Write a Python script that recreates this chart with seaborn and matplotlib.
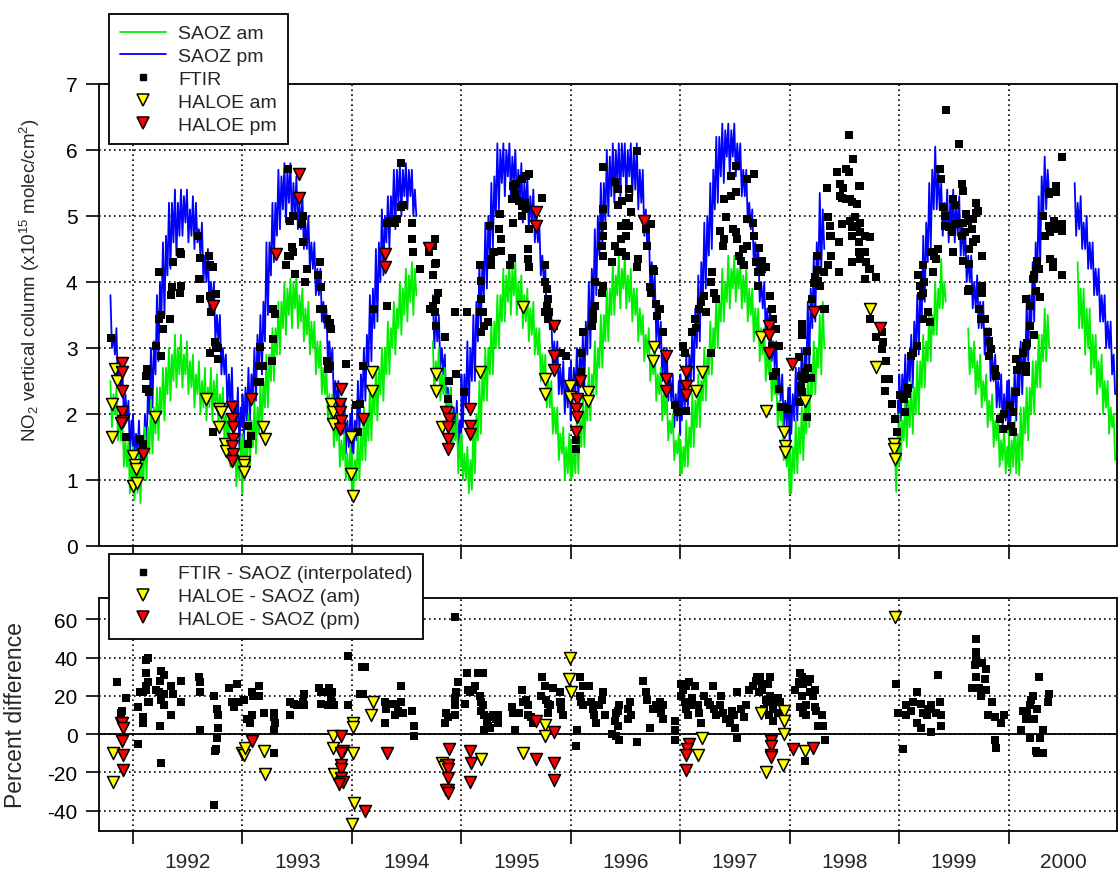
import numpy as np
import pandas as pd
import matplotlib
matplotlib.use("Agg")
import matplotlib.pyplot as plt
from matplotlib.lines import Line2D
import seaborn as sns

nan = np.nan
NN = (nan, nan)

# =========================
# DATA
# =========================
# SAOZ daily columns shown as (upper, lower) edge of the noisy band every 10 days,
# one row per year 1991-2000 (37 pairs per year, days 0/5, 10/15, ..., 360/365)
saoz_years = list(range(1991, 2001))
saoz_doy = list(range(0, 370, 5))

saoz_pm = (
    [NN] * 29 + [(3.8, 3.0), (3.2, 2.9), (3.3, 2.4), (2.8, 2.4), (2.7, 1.9), (2.3, 1.9), (2.2, 1.4), (1.9, 1.5)]
    + [(2.0, 1.4), (1.7, 1.4), (1.9, 1.2), (1.6, 1.3), (2.0, 1.4), (2.4, 2.0), (3.0, 2.1), (3.1, 2.6), (3.8, 2.8),
       (4.0, 3.5), (4.6, 3.5), (4.7, 4.1), (5.2, 4.2), (5.2, 4.6), (5.4, 4.4), (5.2, 4.7), (5.4, 4.7), (5.3, 4.9),
       (5.4, 4.6), (5.1, 4.7), (5.3, 4.5), (5.2, 4.6), (4.8, 4.4), (4.9, 4.0), (4.4, 4.0), (4.5, 3.6), (4.0, 3.6),
       (4.0, 3.1), (3.5, 3.1), (3.5, 2.6), (3.0, 2.6), (2.9, 2.1), (2.6, 2.1), (2.7, 1.8), (2.2, 1.8), (2.4, 1.5),
       (2.1, 1.8)]
    + [(2.3, 1.6), (2.4, 1.9), (2.7, 1.9), (2.6, 2.3), (3.0, 2.2), (3.2, 2.7), (3.5, 2.6), (3.7, 3.1), (4.6, 3.5),
       (4.6, 4.1), (5.2, 4.3), (5.2, 4.7), (5.7, 4.8), (5.6, 5.1), (5.8, 4.9), (5.7, 5.2), (5.8, 4.9), (5.5, 5.0),
       (5.6, 4.8), (5.2, 4.8), (5.3, 4.5), (4.9, 4.5), (5.0, 4.2), (4.6, 4.2), (4.6, 3.8), (4.2, 3.8), (4.2, 3.4),
       (3.7, 3.3), (3.6, 2.8), (3.1, 2.7), (3.0, 2.2), (2.5, 2.1), (2.5, 1.7), (2.1, 1.7), (2.2, 1.4), (1.9, 1.5),
       (2.0, 1.4)]
    + [(2.1, 1.4), (1.9, 1.6), (2.5, 1.7), (2.6, 2.2), (3.0, 2.2), (3.2, 2.7), (3.8, 2.8), (3.9, 3.3), (4.5, 3.4),
       (4.6, 4.0), (5.1, 4.1), (5.0, 4.6), (5.3, 4.5), (5.3, 4.9), (5.7, 4.8), (5.7, 5.2), (5.8, 5.0), (5.7, 5.3),
       (5.8, 5.1), (5.7, 5.3), (5.7, 5.0), (5.4, 5.0)] + [NN] * 5
    + [(3.8, 3.0), (3.5, 3.1), (3.5, 2.7), (3.0, 2.6), (2.9, 2.1), (2.4, 2.0), (2.4, 1.6), (2.1, 1.7), (2.2, 1.5),
       (1.9, 1.6)]
    + [(2.6, 1.8), (2.6, 2.1), (3.1, 2.1), (3.0, 2.5), (3.5, 2.5), (3.7, 3.1), (4.3, 3.3), (4.3, 3.8), (4.9, 3.9),
       (5.0, 4.4), (5.5, 4.5), (5.6, 5.0), (6.1, 5.1), (6.0, 5.5), (6.1, 5.3), (6.0, 5.6), (6.1, 5.3), (5.9, 5.5),
       (6.0, 5.2), (5.7, 5.2), (5.8, 4.9), (5.5, 5.1), (5.6, 4.8), (5.3, 4.9), (5.4, 4.6), (5.0, 4.6), (4.9, 4.1),
       (4.4, 4.0), (4.2, 3.4), (3.7, 3.3), (3.5, 2.7), (3.1, 2.7), (3.1, 2.3), (2.7, 2.3), (2.8, 2.0), (2.5, 2.1),
       (2.7, 1.9)]
    + [(2.8, 2.1), (2.7, 2.3), (3.0, 2.2), (2.9, 2.5), (3.2, 2.4), (3.4, 2.9), (4.0, 3.0), (4.2, 3.6), (4.8, 3.8),
       (5.0, 4.4), (5.5, 4.5), (5.5, 4.9), (6.0, 5.0), (5.9, 5.3), (6.1, 5.2), (6.0, 5.5), (6.1, 5.3), (6.1, 5.6),
       (6.1, 5.3), (6.0, 5.6), (6.1, 5.3), (6.0, 5.4), (6.1, 5.1), (5.7, 5.2), (5.7, 4.7), (5.1, 4.5), (4.9, 3.9),
       (4.3, 3.7), (4.1, 3.1), (3.5, 3.0), (3.4, 2.5), (3.0, 2.5), (3.0, 2.2), (2.6, 2.2), (2.6, 1.8), (2.3, 1.9),
       (2.5, 1.7)]
    + [(2.6, 1.9), (2.5, 2.1), (2.9, 2.1), (2.9, 2.5), (3.3, 2.5), (3.6, 3.0), (4.1, 3.1), (4.3, 3.7), (4.9, 3.9),
       (5.0, 4.4), (5.5, 4.5), (5.7, 5.1), (6.2, 5.2), (6.2, 5.6), (6.4, 5.5), (6.3, 5.9), (6.4, 5.6), (6.3, 5.9),
       (6.4, 5.6), (6.1, 5.7), (6.1, 5.3), (5.7, 5.3), (5.7, 4.9), (5.2, 4.8), (5.1, 4.3), (4.6, 4.2), (4.5, 3.7),
       (4.0, 3.6), (4.0, 3.2), (3.6, 3.2), (3.6, 2.8), (3.1, 2.7), (3.1, 2.3), (2.6, 2.2), (2.6, 1.8), (2.2, 1.8),
       (2.4, 1.6)]
    + [(2.4, 1.7), (2.3, 1.9), (2.7, 1.9), (2.7, 2.3), (3.0, 2.2), (3.0, 2.6), (3.7, 2.7), (3.9, 3.3), (4.4, 3.4),
       (4.6, 4.0), (5.35, 4.2), (5.1, 4.5)] + [NN] * 24 + [(2.2, 1.6)]
    + [(2.6, 1.9), (2.6, 2.2), (2.9, 2.1), (2.9, 2.5), (3.2, 2.4), (3.4, 2.9), (3.8, 2.9), (4.0, 3.4), (4.7, 3.7),
       (4.9, 4.3), (5.5, 4.5), (5.7, 5.1), (6.05, 5.1), (5.7, 5.1), (5.5, 4.7), (5.2, 4.8), (5.4, 4.6), (5.2, 4.8),
       (5.4, 4.6), (5.2, 4.7), (5.3, 4.4), (4.9, 4.4), (4.8, 4.0), (4.4, 4.0), (4.4, 3.6), (4.0, 3.6), (4.1, 3.3),
       (3.7, 3.3), (3.7, 2.9), (3.3, 2.9), (3.3, 2.5), (2.9, 2.5), (2.9, 2.1), (2.5, 2.1), (2.6, 1.8), (2.3, 1.9),
       (2.5, 1.7)]
    + [(2.5, 1.8), (2.4, 2.0), (2.7, 1.9), (2.7, 2.3), (3.1, 2.3), (3.1, 2.7), (3.7, 2.8), (3.8, 3.3), (4.3, 3.4),
       (4.6, 4.0), (5.3, 4.3), (5.6, 5.0), (5.9, 5.1), (5.7, 5.3)] + [NN] * 8
    + [(5.5, 4.7), (5.2, 4.8), (5.3, 4.5), (4.9, 4.5), (5.0, 4.2), (4.6, 4.2), (4.6, 3.8), (4.2, 3.8), (4.2, 3.4),
       (3.8, 3.4), (3.8, 3.0), (3.4, 3.0), (3.4, 2.6), (2.9, 2.3), NN]
)

saoz_am = (
    [NN] * 29 + [(2.5, 1.8), (2.3, 2.0), (2.4, 1.6), (2.0, 1.6), (2.0, 1.2), (1.6, 1.2), (1.6, 0.8), (1.3, 0.9)]
    + [(1.5, 0.7), (1.2, 0.8), (1.4, 0.65), (1.4, 1.0), (1.8, 1.0), (1.8, 1.4), (2.2, 1.4), (2.1, 1.7), (2.4, 1.6),
       (2.4, 2.0), (2.7, 1.9), (2.7, 2.3), (3.0, 2.2), (2.9, 2.5), (3.2, 2.4), (3.0, 2.6), (3.2, 2.4), (2.9, 2.6),
       (3.1, 2.3), (2.8, 2.4), (2.9, 2.1), (2.6, 2.3), (2.8, 2.0), (2.5, 2.1), (2.7, 1.9), (2.4, 2.1), (2.7, 1.9),
       (2.5, 2.1), (2.6, 1.8), (2.3, 1.9), (2.4, 1.6), (2.0, 1.6), (2.0, 1.2), (1.6, 1.2), (1.7, 0.9), (1.4, 1.0),
       (1.6, 0.8)]
    + [(1.7, 1.0), (1.6, 1.3), (2.0, 1.2), (1.9, 1.5), (2.2, 1.4), (2.1, 1.7), (2.5, 1.7), (2.5, 2.1), (2.9, 2.1),
       (2.9, 2.5), (3.3, 2.5), (3.3, 2.9), (3.7, 2.9), (3.7, 3.3), (4.0, 3.2), (3.9, 3.5), (4.05, 3.3), (4.0, 3.6),
       (4.1, 3.3), (3.8, 3.4), (3.9, 3.1), (3.6, 3.2), (3.7, 2.9), (3.4, 3.0), (3.4, 2.6), (3.1, 2.7), (3.1, 2.3),
       (2.7, 2.3), (2.7, 1.9), (2.3, 1.9), (2.3, 1.5), (1.9, 1.6), (2.0, 1.2), (1.6, 1.3), (1.7, 1.0), (1.4, 1.0),
       (1.5, 0.85)]
    + [(1.4, 0.85), (1.3, 1.0), (1.7, 1.0), (1.7, 1.3), (2.1, 1.3), (2.0, 1.6), (2.4, 1.6), (2.4, 2.0), (2.7, 1.9),
       (2.7, 2.3), (3.0, 2.2), (3.0, 2.6), (3.4, 2.6), (3.3, 3.0), (3.7, 2.9), (3.6, 3.3), (4.0, 3.2), (3.9, 3.5),
       (4.2, 3.4), (4.1, 3.7), (4.3, 3.5), (4.2, 3.8)] + [NN] * 5
    + [(3.1, 2.3), (2.8, 2.5), (3.0, 2.2), (2.6, 2.3), (2.7, 1.9), (2.3, 2.0), (2.4, 1.5), (1.9, 1.6), (2.0, 1.1),
       (1.6, 1.2)]
    + [(1.7, 1.0), (1.4, 1.0), (1.5, 0.8), (1.3, 0.85), (1.9, 1.1), (2.0, 1.6), (2.5, 1.7), (2.6, 2.2), (3.0, 2.2),
       (3.0, 2.6), (3.4, 2.6), (3.4, 3.0), (3.8, 3.0), (3.8, 3.4), (4.2, 3.4), (4.1, 3.7), (4.3, 3.5), (4.2, 3.8),
       (4.3, 3.5), (4.0, 3.6), (4.1, 3.3), (3.8, 3.4), (3.9, 3.1), (3.6, 3.2), (3.7, 2.9), (3.3, 2.9), (3.3, 2.5),
       (2.9, 2.5), (2.9, 2.1), (2.5, 2.1), (2.5, 1.7), (2.1, 1.7), (2.1, 1.3), (1.7, 1.4), (1.8, 1.0), (1.5, 1.1),
       (1.7, 1.0)]
    + [(1.6, 1.05), (1.5, 1.1), (1.9, 1.1), (1.9, 1.5), (2.3, 1.5), (2.2, 1.9), (2.7, 1.9), (2.6, 2.3), (3.1, 2.3),
       (3.0, 2.7), (3.5, 2.7), (3.5, 3.1), (3.9, 3.1), (3.9, 3.5), (4.3, 3.5), (4.1, 3.8), (4.4, 3.6), (4.2, 3.9),
       (4.4, 3.6), (4.1, 3.7), (4.2, 3.4), (3.9, 3.5), (3.9, 3.1), (3.6, 3.2), (3.5, 2.8), (3.2, 2.9), (3.3, 2.5),
       (2.9, 2.6), (3.0, 2.2), (2.6, 2.3), (2.7, 1.9), (2.3, 2.0), (2.3, 1.6), (1.9, 1.7), (2.0, 1.3), (1.6, 1.4),
       (1.7, 1.1)]
    + [(1.6, 1.1), (1.5, 1.2), (1.9, 1.2), (1.8, 1.5), (2.3, 1.5), (2.2, 1.8), (2.6, 1.8), (2.5, 2.2), (3.0, 2.2),
       (2.9, 2.6), (3.4, 2.6), (3.3, 3.0), (3.8, 3.0), (3.7, 3.4), (4.2, 3.4), (4.0, 3.7), (4.4, 3.6), (4.2, 3.9),
       (4.4, 3.7), (4.2, 3.9), (4.4, 3.6), (4.1, 3.7), (4.2, 3.4), (3.9, 3.5), (3.9, 3.1), (3.6, 3.2), (3.6, 2.8),
       (3.3, 2.9), (3.3, 2.5), (3.0, 2.6), (3.0, 2.2), (2.6, 2.3), (2.6, 1.8), (2.2, 1.9), (2.1, 1.3), (1.6, 1.2),
       (1.5, 0.8)]
    + [(1.6, 0.8), (1.5, 1.1), (1.9, 1.1), (1.8, 1.4), (2.1, 1.3), (2.1, 1.7), (2.6, 1.8), (2.7, 2.3), (3.1, 2.3),
       (3.0, 2.7), (3.5, 2.6), (3.7, 3.0)] + [NN] * 23 + [(1.6, 0.82), (1.7, 1.2)]
    + [(2.0, 1.3), (1.9, 1.6), (2.3, 1.5), (2.2, 1.8), (2.5, 1.7), (2.4, 2.0), (2.8, 2.0), (2.8, 2.4), (3.2, 2.4),
       (3.1, 2.8), (3.6, 2.8), (3.5, 3.2), (4.0, 3.2), (3.9, 3.6), (4.35, 3.6), (4.0, 3.7)] + [NN] * 7
    + [(3.3, 2.6), (3.0, 2.7), (3.1, 2.3), (2.8, 2.4), (2.9, 2.1), (2.5, 2.2), (2.6, 1.8), (2.2, 1.9), (2.3, 1.5),
       (1.9, 1.6), (2.0, 1.2), (1.6, 1.3), (1.8, 1.1), (1.5, 1.2)]
    + [(1.8, 1.1), (1.6, 1.2), (1.9, 1.1), (1.7, 1.07), (2.1, 1.3), (2.1, 1.7), (2.4, 1.6), (2.4, 2.0), (2.8, 2.0),
       (2.8, 2.4), (3.2, 2.4), (3.2, 2.8), (3.6, 2.8), (3.5, 3.0)] + [NN] * 9
    + [(4.3, 3.3), (3.9, 3.3), (3.9, 2.9), (3.6, 3.0), (3.6, 2.6), (3.2, 2.7), (3.2, 2.3), (2.8, 2.4), (2.9, 2.0),
       (2.5, 2.1), (2.5, 1.7), (2.1, 1.8), (2.0, 1.3), NN]
)

# FTIR NO2 columns (decimal year, 1e15 molec/cm2)
ftir = [
    (1991.80, 3.15), (1991.94, 1.65), (1992.06, 1.62), (1992.09, 1.55), (1992.12, 2.38), (1992.13, 2.68),
    (1992.12, 2.58), (1992.15, 2.33), (1992.21, 3.03), (1992.24, 4.15), (1992.24, 3.44), (1992.26, 3.50),
    (1992.26, 2.88), (1992.27, 3.29), (1992.34, 3.44), (1992.35, 3.80), (1992.36, 3.92), (1992.37, 4.30),
    (1992.43, 4.45), (1992.44, 4.42), (1992.43, 3.84), (1992.44, 3.94), (1992.59, 4.70), (1992.61, 4.37),
    (1992.60, 4.05), (1992.61, 3.74), (1992.69, 4.40), (1992.70, 4.25), (1992.73, 4.23), (1992.70, 3.79),
    (1992.71, 3.54), (1992.76, 3.82), (1992.75, 3.09), (1992.76, 3.03), (1992.78, 3.00), (1992.70, 2.93),
    (1992.78, 2.83), (1992.73, 1.72),
    (1993.05, 1.82), (1993.08, 1.67), (1993.05, 1.55), (1993.13, 2.48), (1993.16, 2.48), (1993.15, 2.73),
    (1993.16, 3.01), (1993.19, 2.73), (1993.27, 2.81), (1993.28, 3.59), (1993.28, 3.13), (1993.30, 3.51),
    (1993.40, 4.25), (1993.42, 4.40), (1993.43, 4.40), (1993.45, 4.53), (1993.46, 4.45), (1993.48, 4.12),
    (1993.43, 4.93), (1993.46, 5.00), (1993.54, 4.88), (1993.55, 4.60), (1993.42, 5.71), (1993.55, 5.00),
    (1993.59, 4.20), (1993.57, 4.00), (1993.69, 4.10), (1993.71, 4.30), (1993.72, 3.92), (1993.71, 3.59),
    (1993.74, 3.59), (1993.77, 3.44), (1993.80, 3.38), (1993.80, 3.33), (1993.81, 3.29), (1993.77, 2.81),
    (1993.80, 2.73), (1993.78, 2.68), (1993.95, 2.76),
    (1994.04, 2.13), (1994.06, 1.72), (1994.07, 2.15), (1994.10, 2.73), (1994.20, 3.59), (1994.32, 3.64),
    (1994.32, 4.90), (1994.35, 4.93), (1994.39, 4.90), (1994.41, 4.95), (1994.45, 5.81), (1994.45, 5.13),
    (1994.47, 5.16), (1994.55, 4.90), (1994.55, 4.65), (1994.56, 4.45), (1994.62, 4.20), (1994.70, 4.45),
    (1994.76, 4.65), (1994.74, 4.55), (1994.76, 4.27), (1994.77, 4.29), (1994.74, 4.10), (1994.79, 3.84),
    (1994.77, 3.72), (1994.74, 3.64), (1994.71, 3.59), (1994.76, 3.54), (1994.77, 3.34), (1994.85, 3.16),
    (1994.94, 3.54), (1994.89, 2.50), (1994.88, 2.23), (1994.95, 2.60),
    (1995.05, 3.54), (1995.02, 2.33), (1995.17, 4.25), (1995.18, 4.02), (1995.18, 3.74), (1995.17, 3.54),
    (1995.20, 3.54), (1995.18, 3.24), (1995.21, 3.34), (1995.24, 3.39), (1995.27, 4.35), (1995.27, 4.25),
    (1995.30, 4.45), (1995.36, 4.47), (1995.26, 4.85), (1995.35, 5.03), (1995.34, 4.80), (1995.36, 4.65),
    (1995.44, 4.25), (1995.46, 4.37), (1995.47, 4.90), (1995.46, 5.26), (1995.49, 5.33), (1995.50, 5.48),
    (1995.53, 5.23), (1995.58, 5.20), (1995.55, 5.15), (1995.47, 5.46), (1995.55, 5.56), (1995.59, 5.61),
    (1995.62, 5.64), (1995.55, 5.00), (1995.59, 5.10), (1995.62, 4.80), (1995.61, 4.35), (1995.62, 4.22),
    (1995.61, 4.50), (1995.74, 5.28), (1995.76, 4.25), (1995.76, 4.00), (1995.78, 3.90), (1995.79, 3.74),
    (1995.78, 3.64), (1995.76, 3.54), (1995.79, 3.44), (1995.80, 3.54), (1995.84, 3.34), (1995.85, 3.34),
    (1995.91, 2.93), (1995.96, 2.88),
    (1996.09, 2.93), (1996.11, 3.24), (1996.09, 2.63), (1996.08, 2.48), (1996.05, 1.60), (1996.05, 1.47),
    (1996.20, 3.44), (1996.19, 3.34), (1996.20, 3.54), (1996.22, 3.64), (1996.22, 4.00), (1996.28, 3.84),
    (1996.29, 3.94), (1996.28, 4.55), (1996.29, 4.70), (1996.29, 4.40), (1996.29, 5.10), (1996.29, 4.85),
    (1996.38, 4.30), (1996.40, 4.55), (1996.43, 4.45), (1996.46, 4.65), (1996.47, 4.45), (1996.29, 5.74),
    (1996.40, 5.51), (1996.43, 5.41), (1996.43, 5.16), (1996.47, 5.23), (1996.53, 5.41), (1996.53, 5.28),
    (1996.55, 5.06), (1996.53, 4.85), (1996.50, 4.90), (1996.46, 4.85), (1996.50, 4.70), (1996.60, 5.99),
    (1996.50, 4.40), (1996.61, 4.35), (1996.60, 4.22), (1996.70, 4.55), (1996.69, 4.80), (1996.73, 4.88),
    (1996.75, 4.20), (1996.76, 4.17), (1996.72, 3.92), (1996.73, 3.84), (1996.78, 3.67), (1996.79, 3.49),
    (1996.81, 3.59), (1996.84, 3.24), (1996.95, 2.13), (1996.98, 2.03),
    (1997.05, 2.05), (1997.04, 2.93), (1997.02, 3.03), (1997.11, 3.24), (1997.14, 3.31), (1997.13, 3.44),
    (1997.17, 3.59), (1997.19, 3.69), (1997.22, 3.79), (1997.23, 3.54), (1997.28, 2.93), (1997.28, 4.00),
    (1997.29, 4.15), (1997.31, 3.84), (1997.33, 3.74), (1997.36, 4.78), (1997.39, 4.55), (1997.40, 4.65),
    (1997.42, 4.98), (1997.40, 5.26), (1997.46, 5.31), (1997.51, 5.36), (1997.46, 5.61), (1997.51, 5.76),
    (1997.61, 5.56), (1997.67, 5.64), (1997.48, 4.80), (1997.51, 4.75), (1997.52, 4.65), (1997.54, 4.40),
    (1997.55, 4.32), (1997.58, 4.25), (1997.61, 4.95), (1997.66, 4.90), (1997.67, 4.70), (1997.57, 4.50),
    (1997.61, 4.55), (1997.69, 4.30), (1997.71, 4.15), (1997.74, 4.15), (1997.75, 4.32), (1997.72, 4.52),
    (1997.71, 3.94), (1997.75, 4.20), (1997.78, 4.22), (1997.82, 3.79), (1997.84, 3.59), (1997.85, 3.44),
    (1997.87, 3.29), (1997.90, 3.03), (1997.84, 3.03), (1997.87, 2.63), (1997.85, 2.58), (1997.90, 2.38),
    (1997.92, 2.10), (1997.95, 2.10), (1997.98, 2.08),
    (1998.10, 2.43), (1998.11, 2.33), (1998.13, 2.53), (1998.11, 3.19), (1998.11, 3.31), (1998.11, 3.36),
    (1998.16, 2.96), (1998.17, 2.70), (1998.19, 2.55), (1998.08, 2.18), (1998.16, 1.95), (1998.08, 2.86),
    (1998.10, 2.58), (1998.14, 2.63), (1998.25, 4.40), (1998.25, 4.18), (1998.22, 3.99), (1998.23, 4.07),
    (1998.26, 4.02), (1998.31, 4.15), (1998.20, 3.74), (1998.28, 3.94), (1998.31, 3.59), (1998.32, 3.59),
    (1998.34, 5.43), (1998.35, 4.98), (1998.37, 4.70), (1998.38, 4.70), (1998.38, 4.40), (1998.35, 4.25),
    (1998.45, 4.15), (1998.37, 4.85), (1998.43, 5.66), (1998.46, 5.31), (1998.48, 5.28), (1998.49, 5.43),
    (1998.51, 5.71), (1998.54, 6.22), (1998.58, 5.86), (1998.46, 5.48), (1998.51, 5.26), (1998.55, 5.26),
    (1998.57, 5.21), (1998.61, 5.18), (1998.63, 5.46), (1998.64, 5.46), (1998.54, 5.66), (1998.55, 4.93),
    (1998.60, 4.98), (1998.61, 4.85), (1998.64, 4.90), (1998.64, 4.75), (1998.57, 4.83), (1998.57, 4.70),
    (1998.45, 4.60), (1998.48, 4.88), (1998.63, 4.60), (1998.73, 4.68), (1998.69, 4.70), (1998.57, 4.30),
    (1998.63, 4.45), (1998.64, 4.35), (1998.69, 4.45), (1998.70, 4.30), (1998.69, 4.05), (1998.72, 4.20),
    (1998.73, 4.20), (1998.79, 4.07), (1998.73, 3.44), (1998.79, 3.16), (1998.84, 3.24), (1998.85, 3.09),
    (1998.84, 2.98), (1998.88, 2.81), (1998.87, 2.53), (1998.87, 2.35), (1998.91, 2.53), (1998.93, 2.15),
    (1998.96, 1.92), (1998.98, 1.72),
    (1999.01, 2.28), (1999.04, 2.23), (1999.05, 2.03), (1999.07, 2.30), (1999.08, 2.40), (1999.11, 2.88),
    (1999.13, 2.93), (1999.16, 3.03), (1999.17, 4.10), (1999.22, 4.25), (1999.23, 4.00), (1999.22, 3.84),
    (1999.19, 3.94), (1999.20, 3.79), (1999.22, 3.44), (1999.26, 3.54), (1999.28, 3.39), (1999.31, 4.15),
    (1999.29, 4.45), (1999.32, 4.40), (1999.35, 4.50), (1999.34, 4.35), (1999.37, 5.71), (1999.38, 5.56),
    (1999.43, 6.60), (1999.40, 5.13), (1999.42, 5.00), (1999.49, 5.26), (1999.51, 5.16), (1999.42, 4.85),
    (1999.45, 4.83), (1999.48, 4.75), (1999.51, 4.88), (1999.55, 6.09), (1999.57, 5.48), (1999.58, 5.38),
    (1999.58, 4.90), (1999.61, 5.03), (1999.63, 4.93), (1999.67, 4.95), (1999.70, 5.05), (1999.60, 4.75),
    (1999.66, 4.80), (1999.49, 4.45), (1999.57, 4.70), (1999.64, 4.50), (1999.67, 4.60), (1999.70, 4.65),
    (1999.58, 4.32), (1999.64, 4.27), (1999.70, 5.20), (1999.72, 5.08), (1999.76, 4.40), (1999.63, 3.87),
    (1999.64, 3.89), (1999.76, 3.94), (1999.76, 3.84), (1999.73, 3.59), (1999.75, 3.44), (1999.78, 3.44),
    (1999.81, 3.24), (1999.82, 3.11), (1999.84, 2.98), (1999.82, 2.88), (1999.87, 2.68), (1999.88, 2.58),
    (1999.92, 1.92), (1999.95, 1.77), (1999.96, 2.00),
    (2000.01, 2.13), (2000.02, 1.82), (2000.04, 1.72), (2000.04, 2.03), (2000.07, 2.33), (2000.08, 2.66),
    (2000.07, 2.83), (2000.10, 2.73), (2000.13, 2.93), (2000.16, 3.03), (2000.17, 3.08), (2000.16, 2.63),
    (2000.16, 2.73), (2000.16, 3.74), (2000.19, 3.64), (2000.19, 3.34), (2000.23, 3.19), (2000.22, 4.05),
    (2000.23, 4.10), (2000.25, 4.20), (2000.26, 4.32), (2000.28, 4.20), (2000.25, 3.87), (2000.29, 3.77),
    (2000.31, 5.00), (2000.33, 4.70), (2000.37, 4.85), (2000.38, 4.75), (2000.38, 4.35), (2000.40, 4.30),
    (2000.40, 4.22), (2000.38, 4.78), (2000.41, 4.93), (2000.37, 5.33), (2000.38, 5.36), (2000.43, 5.46),
    (2000.43, 5.36), (2000.43, 4.80), (2000.49, 4.88), (2000.49, 4.78), (2000.49, 4.10), (2000.49, 5.89),
]

haloe_am = [
    (1991.81, 2.15), (1991.81, 1.65), (1991.84, 2.68), (1991.85, 2.50), (1992.00, 1.37), (1992.02, 1.22),
    (1992.03, 1.17), (1992.00, 0.91), (1992.04, 0.96), (1992.20, 1.95), (1992.67, 2.23), (1992.79, 2.08),
    (1992.79, 1.80), (1992.80, 2.03), (1992.84, 1.55), (1992.85, 1.44), (1993.01, 1.27), (1993.01, 1.22),
    (1993.01, 1.12), (1993.19, 1.80), (1993.21, 1.62), (1993.81, 2.15), (1993.83, 2.03), (1993.83, 1.85),
    (1993.99, 1.65), (1993.99, 1.09), (1994.01, 0.76), (1994.18, 2.63), (1994.18, 2.35), (1994.77, 2.60),
    (1994.77, 2.35), (1994.82, 1.80), (1995.17, 2.63), (1995.56, 3.62), (1995.76, 2.53), (1995.76, 2.30),
    (1995.99, 2.43), (1995.99, 2.25), (1996.16, 2.33), (1996.16, 2.20), (1996.76, 3.01), (1996.75, 2.81),
    (1997.14, 2.35), (1997.20, 2.63), (1997.74, 3.16), (1997.78, 2.05), (1997.95, 1.72), (1997.96, 1.52),
    (1997.96, 1.42), (1998.14, 2.20), (1998.73, 3.59), (1998.79, 2.71), (1998.95, 1.55), (1998.95, 1.47),
    (1998.96, 1.32),
]

haloe_pm = [
    (1991.90, 2.78), (1991.90, 2.63), (1991.90, 2.35), (1991.90, 2.03), (1991.91, 1.90), (1991.89, 1.87),
    (1992.09, 1.39), (1992.73, 3.64), (1992.90, 2.10), (1992.90, 1.92), (1992.91, 1.80), (1992.91, 1.62),
    (1992.90, 1.52), (1992.91, 1.39), (1992.90, 1.29), (1993.08, 2.23), (1993.31, 4.42), (1993.52, 5.64),
    (1993.52, 5.28), (1993.90, 2.38), (1993.89, 2.15), (1993.89, 2.03), (1993.90, 1.90), (1993.89, 1.77),
    (1994.10, 1.92), (1994.30, 4.42), (1994.30, 4.22), (1994.70, 4.52), (1994.86, 2.03), (1994.89, 1.92),
    (1994.88, 1.80), (1994.88, 1.62), (1994.88, 1.47), (1995.08, 2.08), (1995.08, 1.82), (1995.08, 1.70),
    (1995.68, 5.06), (1995.68, 4.85), (1995.85, 3.34), (1995.85, 2.88), (1995.85, 2.66), (1996.08, 2.50),
    (1996.06, 2.23), (1996.05, 2.08), (1996.06, 1.95), (1996.05, 1.72), (1996.67, 4.93), (1996.87, 2.88),
    (1996.87, 2.53), (1996.87, 2.35), (1997.05, 2.63), (1997.05, 2.43), (1997.05, 2.28), (1997.81, 3.34),
    (1997.81, 3.19), (1997.81, 2.93), (1998.02, 2.76), (1998.22, 3.54), (1998.82, 3.31),
]

# percent differences
diff_ftir = [
    (1991.85, 27), (1991.90, 12), (1991.89, 11), (1991.94, 19), (1992.05, -5), (1992.05, 14), (1992.09, 22),
    (1992.06, 22), (1992.12, 23), (1992.09, 9), (1992.09, 6), (1992.12, 32), (1992.14, 40), (1992.12, 39),
    (1992.14, 27), (1992.12, 25), (1992.14, 17), (1992.15, 17), (1992.21, 23), (1992.24, 22), (1992.25, 28),
    (1992.26, 33), (1992.28, 31), (1992.26, 18), (1992.28, 15), (1992.25, 4), (1992.26, -15), (1992.28, 21),
    (1992.35, 25), (1992.35, 10), (1992.37, 21), (1992.44, 28), (1992.44, 17), (1992.60, 30), (1992.61, 27),
    (1992.61, 22), (1992.61, 2), (1992.74, 20), (1992.77, 13), (1992.78, 10), (1992.78, 3), (1992.77, -2),
    (1992.76, -8), (1992.75, -9), (1992.74, -37), (1992.88, 24), (1992.90, 17), (1992.92, 14), (1992.95, 26),
    (1992.96, 17),
    (1993.01, 18), (1993.04, 8), (1993.07, 6), (1993.09, 10), (1993.09, 22), (1993.10, 20), (1993.15, 25),
    (1993.15, 20), (1993.20, 11), (1993.29, 11), (1993.29, 9), (1993.30, 6), (1993.29, 2), (1993.29, -10),
    (1993.43, 10), (1993.43, 17), (1993.47, 16), (1993.50, 15), (1993.55, 17), (1993.56, 15), (1993.56, 21),
    (1993.70, 24), (1993.72, 22), (1993.72, 16), (1993.76, 22), (1993.78, 15), (1993.79, 24), (1993.81, 19),
    (1993.82, 22), (1993.84, 15), (1993.82, 17), (1993.96, 15), (1993.96, 41),
    (1994.09, 35), (1994.12, 35), (1994.07, 21), (1994.10, 21), (1994.30, 17), (1994.31, 13), (1994.30, 6),
    (1994.35, 16), (1994.39, 10), (1994.42, 12), (1994.40, 16), (1994.45, 25), (1994.45, 17), (1994.47, 11),
    (1994.55, 12), (1994.57, 4), (1994.57, -1), (1994.85, 6), (1994.86, 11), (1994.88, 9), (1994.94, 10),
    (1994.94, 15), (1994.95, 22), (1994.97, 27), (1994.94, 19), (1994.94, 61),
    (1995.05, 32), (1995.06, 23), (1995.03, 16), (1995.08, 22), (1995.11, 23), (1995.12, 25), (1995.15, 32),
    (1995.17, 32), (1995.20, 32), (1995.17, 20), (1995.18, 17), (1995.20, 15), (1995.18, 12), (1995.21, 10),
    (1995.23, 6), (1995.24, 4), (1995.26, 9), (1995.29, 10), (1995.32, 8), (1995.33, 10), (1995.26, 3),
    (1995.21, 2), (1995.33, 6), (1995.46, 14), (1995.47, 11), (1995.49, 2), (1995.53, 11), (1995.56, 17),
    (1995.55, 23), (1995.59, 18), (1995.61, 15), (1995.64, 9), (1995.61, 10), (1995.65, 6), (1995.74, 30),
    (1995.76, 25), (1995.73, 20), (1995.77, 18), (1995.79, 16), (1995.79, 11), (1995.81, 15), (1995.90, 17),
    (1995.91, 13), (1995.93, 10), (1995.91, 17), (1995.84, 24), (1995.90, 22),
    (1996.08, 30), (1996.11, 25), (1996.08, 20), (1996.09, 17), (1996.11, 15), (1996.06, 2), (1996.05, -6),
    (1996.17, 25), (1996.18, 17), (1996.20, 13), (1996.21, 10), (1996.23, 6), (1996.26, 15), (1996.28, 18),
    (1996.29, 22), (1996.31, 10), (1996.41, 11), (1996.43, 4), (1996.40, 7), (1996.38, 0), (1996.44, -3),
    (1996.41, -1), (1996.43, 12), (1996.44, 15), (1996.52, 13), (1996.54, 17), (1996.55, 10), (1996.52, 8),
    (1996.60, -4), (1996.66, 28), (1996.72, 3), (1996.69, 22), (1996.70, 18), (1996.75, 13), (1996.78, 15),
    (1996.81, 17), (1996.82, 11), (1996.84, 8), (1996.84, 15), (1996.95, 7), (1996.95, 2), (1996.95, -3),
    (1997.01, 26), (1997.02, 23), (1997.05, 25), (1997.08, 27), (1997.01, 20), (1997.04, 17), (1997.05, 13),
    (1997.07, 10), (1997.10, 15), (1997.11, 19), (1997.13, 25), (1997.16, 15), (1997.17, 11), (1997.19, 6),
    (1997.22, 20), (1997.25, 17), (1997.27, 15), (1997.30, 25), (1997.31, 13), (1997.33, 10), (1997.36, 15),
    (1997.37, 20), (1997.39, 11), (1997.42, 8), (1997.45, 6), (1997.47, 12), (1997.49, 10), (1997.50, 3),
    (1997.52, -2), (1997.52, 22), (1997.55, 13), (1997.58, 9), (1997.60, 15), (1997.63, 23), (1997.66, 25),
    (1997.69, 28), (1997.70, 30), (1997.72, 22), (1997.75, 23), (1997.73, 30), (1997.75, 26), (1997.78, 18),
    (1997.76, 13), (1997.81, 10), (1997.82, 30), (1997.80, 26), (1997.82, 20), (1997.79, 17), (1997.86, 17),
    (1997.89, 19), (1997.85, 7), (1997.89, 11), (1997.91, 17), (1997.85, 13),
    (1998.05, 23), (1998.08, 27), (1998.09, 32), (1998.11, 30), (1998.11, 20), (1998.09, 14), (1998.12, 11),
    (1998.12, 26), (1998.17, 27), (1998.18, 22), (1998.18, 29), (1998.21, 20), (1998.23, 23), (1998.23, 14),
    (1998.24, 12), (1998.29, 10), (1998.26, 4), (1998.30, 4), (1998.32, -3), (1998.15, 15), (1998.15, 10),
    (1998.14, -14), (1998.97, 26), (1998.99, 11),
    (1999.03, -8), (1999.06, 10), (1999.06, 15), (1999.11, 12), (1999.13, 17), (1999.16, 22), (1999.16, 6),
    (1999.20, 16), (1999.22, 11), (1999.25, 10), (1999.20, 3), (1999.29, 1), (1999.29, 15), (1999.34, 11),
    (1999.35, 31), (1999.37, 17), (1999.38, 10), (1999.38, 4), (1999.26, 13), (1999.70, 50), (1999.70, 43),
    (1999.70, 40), (1999.69, 36), (1999.70, 30), (1999.73, 24), (1999.75, 20), (1999.76, 37), (1999.79, 34),
    (1999.78, 29), (1999.79, 23), (1999.81, 10), (1999.85, 17), (1999.87, 9), (1999.87, -3), (1999.88, -7),
    (1999.93, 6), (1999.96, 10), (1999.66, 24),
    (2000.11, 2), (2000.13, 12), (2000.16, 8), (2000.17, 11), (2000.19, 15), (2000.20, 18), (2000.22, 20),
    (2000.23, 8), (2000.26, 13), (2000.19, -2), (2000.25, -9), (2000.26, -10), (2000.31, -10), (2000.31, 2),
    (2000.29, -2), (2000.28, 30), (2000.36, 17), (2000.37, 21),
]

diff_haloe_am = [
    (1991.82, -10), (1991.82, -25), (1991.89, 6), (1993.00, -10), (1993.01, -11), (1993.02, -7),
    (1993.20, -9), (1993.21, -21), (1993.83, -1), (1993.83, -7), (1993.84, -21), (1994.01, 6),
    (1994.01, 3.5), (1994.01, -10), (1994.02, -36), (1994.00, -47), (1994.19, 17), (1994.17, 10),
    (1994.82, -15), (1994.86, -16), (1994.84, -17), (1995.18, -13), (1995.56, -10), (1995.76, 5),
    (1995.76, -1), (1995.99, 40), (1995.98, 29), (1996.00, 22), (1997.16, -11), (1997.20, -2),
    (1997.78, -20), (1997.74, 11), (1997.95, 12), (1997.95, 7), (1997.95, 0), (1997.94, -16),
    (1998.14, -9), (1998.96, 61),
]

diff_haloe_pm = [
    (1991.90, 6), (1991.91, 3), (1991.90, -3.5), (1991.91, -11), (1991.91, -19), (1993.09, -3.5),
    (1993.90, -1), (1993.92, -9), (1993.90, -10), (1993.90, -16), (1993.90, -18), (1993.90, -23),
    (1993.92, -25), (1993.88, -26), (1994.12, -40), (1994.32, -10), (1994.89, -8), (1994.88, -16),
    (1994.88, -18), (1994.88, -23), (1994.88, -29), (1994.86, -29), (1994.88, -31), (1995.08, -9),
    (1995.09, -15), (1995.08, -25), (1995.68, 7), (1995.68, -13), (1995.85, 1), (1995.85, -15),
    (1995.85, -24), (1997.08, -5), (1997.06, -8), (1997.05, -11), (1997.05, -19), (1997.83, -3.5),
    (1997.83, -6), (1997.83, -11), (1997.83, -12), (1998.03, -8), (1998.21, -7),
]

year_ticks = list(range(1992, 2001))
year_labels = [str(y) for y in year_ticks]

# =========================
# STYLE
# =========================
sns.set_style("white")
plt.rcParams["font.family"] = ["Liberation Sans", "DejaVu Sans"]
plt.rcParams["mathtext.fontset"] = "custom"
plt.rcParams["mathtext.rm"] = "Liberation Sans"
plt.rcParams["mathtext.it"] = "Liberation Sans:italic"
plt.rcParams["mathtext.bf"] = "Liberation Sans:bold"
plt.rcParams["mathtext.default"] = "regular"
plt.rcParams["axes.unicode_minus"] = False

c_am, c_pm = "#00ee00", "#0000ff"
c_yel, c_red = "#ffff00", "#ff0000"
dots = (0, (1, 2))

# =========================
# FIGURE
# =========================
fig = plt.figure(figsize=(11.18, 8.70), dpi=100)
ax1 = fig.add_axes([0.0886, 0.3713, 0.9106, 0.5310])
ax2 = fig.add_axes([0.0886, 0.0440, 0.9106, 0.2671])

saoz_t = np.concatenate([y + np.array(saoz_doy) / 365.25 for y in saoz_years])


def saoz_frame(pairs):
    v = np.array([x for p in pairs for x in p], dtype=float)
    df = pd.DataFrame({"year": saoz_t, "no2": v, "seg": np.cumsum(np.isnan(v))})
    return df.dropna()


def pts(pairs):
    return pd.DataFrame(pairs, columns=["year", "val"])


# top panel
sns.lineplot(data=saoz_frame(saoz_pm), x="year", y="no2", units="seg", estimator=None,
             sort=False, color=c_pm, linewidth=1.3, ax=ax1, legend=False, zorder=2)
sns.lineplot(data=saoz_frame(saoz_am), x="year", y="no2", units="seg", estimator=None,
             sort=False, color=c_am, linewidth=1.3, ax=ax1, legend=False, zorder=2.1)
sns.scatterplot(data=pts(ftir), x="year", y="val", marker="s", s=28, color="black",
                linewidth=0, ax=ax1, legend=False, zorder=3)
sns.scatterplot(data=pts(haloe_am), x="year", y="val", marker="v", s=74, color=c_yel,
                edgecolor="black", linewidth=1.1, ax=ax1, legend=False, zorder=4)
sns.scatterplot(data=pts(haloe_pm), x="year", y="val", marker="v", s=74, color=c_red,
                edgecolor="black", linewidth=1.1, ax=ax1, legend=False, zorder=4)

# bottom panel
ax2.axhline(0, color="black", linewidth=1.3, zorder=1)
sns.scatterplot(data=pts(diff_ftir), x="year", y="val", marker="s", s=28, color="black",
                linewidth=0, ax=ax2, legend=False, zorder=3)
sns.scatterplot(data=pts(diff_haloe_am), x="year", y="val", marker="v", s=74, color=c_yel,
                edgecolor="black", linewidth=1.1, ax=ax2, legend=False, zorder=4)
sns.scatterplot(data=pts(diff_haloe_pm), x="year", y="val", marker="v", s=74, color=c_red,
                edgecolor="black", linewidth=1.1, ax=ax2, legend=False, zorder=4)

# axes
for ax in (ax1, ax2):
    ax.set_xlim(1991.69, 2000.99)
    ax.set_xticks(year_ticks)
    ax.set_xticklabels([])
    ax.set_axisbelow(True)
    ax.grid(True, which="major", color="black", linestyle=dots, linewidth=1.2)
    ax.tick_params(which="major", direction="out", length=9.5, width=1.2,
                   labelsize=15, pad=6, colors="black", left=True, bottom=True)
    ax.set_xlabel("")
    for sp in ax.spines.values():
        sp.set_color("black")
        sp.set_linewidth(1.3)

ax1.set_ylim(0, 7)
ax1.set_yticks(range(0, 8))
ax2.set_ylim(-50.5, 71)
ax2.set_yticks([-40, -20, 0, 20, 40, 60])

ax2.set_xticks([y + 0.5 for y in year_ticks], minor=True)
ax2.set_xticklabels(year_labels, minor=True)
ax2.tick_params(axis="x", which="minor", length=0, labelsize=15, pad=15)

ax1.set_ylabel("NO$_2$ vertical column (x10$^{15}$ molec/cm$^2$)", fontsize=13.5)
ax1.yaxis.set_label_coords(-0.056, 0.578)
ax2.set_ylabel("Percent difference", fontsize=16.5)
ax2.yaxis.set_label_coords(-0.0707, 0.5)

# legends
tri = dict(ls="", marker="v", ms=9, mec="black", mew=1.1)
h_top = [
    Line2D([], [], color=c_am, lw=1.3, label="SAOZ am"),
    Line2D([], [], color=c_pm, lw=1.3, label="SAOZ pm"),
    Line2D([], [], ls="", marker="s", ms=4, color="black", label="FTIR"),
    Line2D([], [], mfc=c_yel, label="HALOE am", **tri),
    Line2D([], [], mfc=c_red, label="HALOE pm", **tri),
]
h_bot = [
    Line2D([], [], ls="", marker="s", ms=4, color="black", label="FTIR - SAOZ (interpolated)"),
    Line2D([], [], mfc=c_yel, label="HALOE - SAOZ (am)", **tri),
    Line2D([], [], mfc=c_red, label="HALOE - SAOZ (pm)", **tri),
]
leg_kw = dict(loc="upper left", borderaxespad=0, fontsize=14, frameon=True, fancybox=False,
              edgecolor="black", framealpha=1, handlelength=2.4, handletextpad=0.6,
              labelspacing=0.27, borderpad=0.55)
leg1 = ax1.legend(handles=h_top, bbox_to_anchor=(0.0098, 1.1515), **leg_kw)
leg1.get_frame().set_linewidth(1.3)
leg2 = ax2.legend(handles=h_bot, bbox_to_anchor=(0.0098, 1.19), **leg_kw)
leg2.get_frame().set_linewidth(1.3)

fig.savefig("out.png", dpi=100)
